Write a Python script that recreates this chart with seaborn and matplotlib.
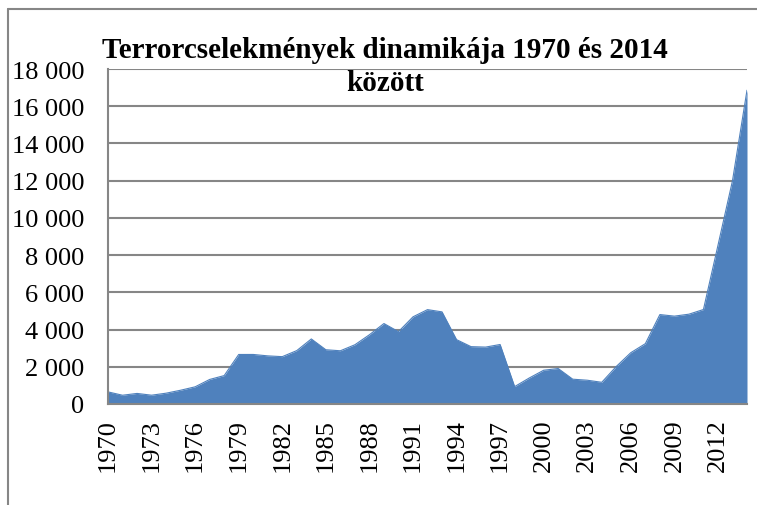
import matplotlib
matplotlib.use("Agg")
import matplotlib.pyplot as plt
import matplotlib.lines as mlines
import seaborn as sns
import pandas as pd

years = list(range(1970, 2015))
incidents = [651, 471, 568, 473, 581, 740, 923, 1319, 1526, 2661,
             2662, 2586, 2544, 2870, 3495, 2915, 2860, 3183, 3721, 4324,
             3887, 4683, 5071, 4950, 3458, 3081, 3058, 3197, 934, 1395,
             1814, 1906, 1333, 1278, 1166, 2017, 2758, 3242, 4805, 4721,
             4826, 5076, 8522, 11996, 16860]
title_line1 = "Terrorcselekmények dinamikája 1970 és 2014"
title_line2 = "között"
y_ticks = list(range(0, 18001, 2000))
y_labels = [f"{v:,}".replace(",", " ") for v in y_ticks]
x_ticks = list(range(1970, 2013, 3))

df = pd.DataFrame({"year": years, "incidents": incidents})

sns.set_theme(style="white")
plt.rcParams["font.family"] = ["Liberation Serif", "DejaVu Serif"]

W, H = 757, 506
fig = plt.figure(figsize=(W / 100, H / 100), dpi=100)
ax = fig.add_axes([108 / W, (H - 405) / H, (747 - 108) / W, (405 - 70) / H])

fill_color = "#4F81BD"
grid_color = "#868686"

ax.fill_between(df["year"], 0, df["incidents"], color=fill_color, linewidth=0, zorder=2)
sns.lineplot(data=df, x="year", y="incidents", ax=ax, color=fill_color, linewidth=0.8, zorder=3)

ax.set_xlim(1970, 2014)
ax.set_ylim(0, 18000)
ax.set_yticks(y_ticks)
ax.set_yticklabels(y_labels, fontsize=19, color="black")
ax.set_xticks(x_ticks)
ax.set_xticklabels([str(x) for x in x_ticks], rotation=90, fontsize=19, color="black")
ax.tick_params(axis="both", length=0)
ax.tick_params(axis="y", pad=17)
ax.tick_params(axis="x", pad=10)
ax.set_xlabel("")
ax.set_ylabel("")

ax.yaxis.grid(True, color=grid_color, linewidth=1.5, zorder=1)
ax.xaxis.grid(False)
ax.set_axisbelow(True)
for s in ["top", "right"]:
    ax.spines[s].set_visible(False)
for s in ["left", "bottom"]:
    ax.spines[s].set_color(grid_color)
    ax.spines[s].set_linewidth(1.5)
    ax.spines[s].set_zorder(4)

fig.text(385 / W, 1 - 58 / H, title_line1, ha="center", va="baseline",
         fontsize=21, fontweight="bold", color="black")
fig.text(385 / W, 1 - 91 / H, title_line2, ha="center", va="baseline",
         fontsize=21, fontweight="bold", color="black")

# outer chart frame (partially cropped)
fig.add_artist(mlines.Line2D([8 / W, 8 / W], [0, 1 - 10 / H], color=grid_color, linewidth=1.5,
                             transform=fig.transFigure))
fig.add_artist(mlines.Line2D([8 / W, 1], [1 - 10 / H, 1 - 10 / H], color=grid_color, linewidth=1.5,
                             transform=fig.transFigure))

fig.savefig("out.png", dpi=100)
